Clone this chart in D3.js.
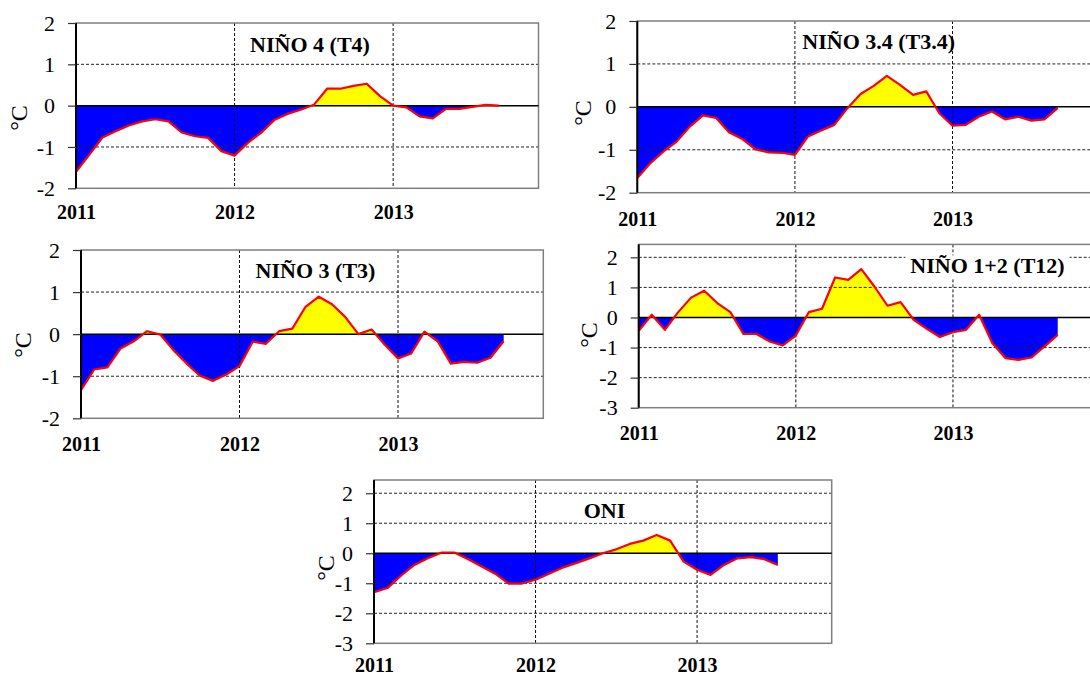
<!DOCTYPE html>
<html>
<head>
<meta charset="utf-8">
<script src="https://cdn.jsdelivr.net/npm/d3@7"></script>
<style>
  html, body { margin: 0; padding: 0; background: #fff; }
  svg { display: block; font-family: "Liberation Serif", "Times New Roman", serif; }
</style>
</head>
<body>
<svg id="chart" width="1090" height="677"></svg>
<script>
// Monthly SST anomalies (°C), starting January 2011
const yearLabels = ["2011", "2012", "2013"];
const yearTickMonths = [0, 12, 24];

const nino4 = [-1.6, -1.19, -0.77, -0.62, -0.48, -0.38, -0.33, -0.38, -0.65, -0.74, -0.78, -1.1,
               -1.21, -0.9, -0.66, -0.35, -0.2, -0.1, 0.02, 0.41, 0.41, 0.48, 0.53, 0.23,
               0.0, -0.04, -0.26, -0.31, -0.08, -0.08, -0.03, 0.02, 0.0];
const nino34 = [-1.66, -1.31, -1.04, -0.81, -0.46, -0.2, -0.26, -0.6, -0.75, -0.99, -1.06, -1.07,
                -1.12, -0.69, -0.55, -0.42, -0.03, 0.3, 0.49, 0.72, 0.51, 0.28, 0.36, -0.15,
                -0.44, -0.42, -0.23, -0.11, -0.29, -0.23, -0.32, -0.29, -0.03];
const nino3 = [-1.33, -0.84, -0.79, -0.34, -0.17, 0.07, -0.01, -0.38, -0.7, -0.99, -1.11, -0.96,
               -0.76, -0.18, -0.23, 0.07, 0.13, 0.65, 0.89, 0.71, 0.41, 0.0, 0.11, -0.25,
               -0.58, -0.46, 0.06, -0.17, -0.7, -0.66, -0.68, -0.56, -0.17];
const nino12 = [-0.44, 0.09, -0.41, 0.17, 0.66, 0.89, 0.48, 0.18, -0.55, -0.55, -0.8, -0.93,
                -0.6, 0.18, 0.29, 1.33, 1.25, 1.61, 1.03, 0.39, 0.51, -0.08, -0.38, -0.65,
                -0.49, -0.41, 0.09, -0.85, -1.35, -1.41, -1.33, -0.96, -0.58];
const oni = [-1.3, -1.16, -0.75, -0.39, -0.17, 0.02, 0.02, -0.2, -0.44, -0.68, -1.01, -1.01,
             -0.88, -0.68, -0.48, -0.33, -0.17, 0.0, 0.13, 0.31, 0.42, 0.61, 0.42, -0.28,
             -0.55, -0.72, -0.39, -0.17, -0.13, -0.2, -0.39];

const ticksSmall = [-2, -1, 0, 1, 2];
const ticksLarge = [-3, -2, -1, 0, 1, 2];

const titles = ["NIÑO 4 (T4)", "NIÑO 3.4 (T3.4)", "NIÑO 3 (T3)", "NIÑO 1+2 (T12)", "ONI"];

// Panel geometry (pixels) and scale domains
const panels = [
  { id: "p4",  title: titles[0], values: nino4,  yTicks: ticksSmall, yMin: -2, yMax: 2,
    left: 76, right: 538.5, top: 23, bottom: 188.3, xMax: 35,
    titleX: 310, titleY: 51.5, titleBox: false, unitX: 19, unitY: 118, labelGap: 31 },
  { id: "p34", title: titles[1], values: nino34, yTicks: ticksSmall, yMin: -2, yMax: 2,
    left: 637.3, right: 1097, top: 21, bottom: 192.7, xMax: 35,
    titleX: 878.7, titleY: 48.5, titleBox: false, unitX: 583, unitY: 113, labelGap: 33 },
  { id: "p3",  title: titles[2], values: nino3,  yTicks: ticksSmall, yMin: -2, yMax: 2,
    left: 81, right: 543.3, top: 250, bottom: 418.3, xMax: 35,
    titleX: 315.5, titleY: 278.3, titleBox: false, unitX: 23, unitY: 345, labelGap: 33 },
  { id: "p12", title: titles[3], values: nino12, yTicks: ticksLarge, yMin: -3, yMax: 2.43,
    left: 638.7, right: 1097, top: 244.4, bottom: 407.7, xMax: 35,
    titleX: 987.5, titleY: 273.3, titleBox: true, unitX: 589, unitY: 335, labelGap: 32 },
  { id: "poni", title: titles[4], values: oni, yTicks: ticksLarge, yMin: -3, yMax: 2.44,
    left: 374, right: 831.7, top: 480, bottom: 643.3, xMax: 34,
    titleX: 604.5, titleY: 517.7, titleBox: true, unitX: 326, unitY: 568, labelGap: 28.5 }
];

const svg = d3.select("#chart");
svg.append("rect").attr("width", 1090).attr("height", 677).attr("fill", "#fff");
const defs = svg.append("defs");

function drawPanel(p) {
  const x = d3.scaleLinear().domain([0, p.xMax]).range([p.left, p.right]);
  const y = d3.scaleLinear().domain([p.yMin, p.yMax]).range([p.bottom, p.top]);
  const g = svg.append("g").attr("class", "panel " + p.id);
  const w = p.right - p.left;

  // clip regions above and below the zero line
  defs.append("clipPath").attr("id", p.id + "-pos")
    .append("rect").attr("x", p.left).attr("y", p.top).attr("width", w).attr("height", y(0) - p.top);
  defs.append("clipPath").attr("id", p.id + "-neg")
    .append("rect").attr("x", p.left).attr("y", y(0)).attr("width", w).attr("height", p.bottom - y(0));

  const area = d3.area().x((d, i) => x(i)).y0(y(0)).y1(d => y(d));
  g.append("path").datum(p.values).attr("d", area)
    .attr("fill", "#ffff00").attr("clip-path", `url(#${p.id}-pos)`);
  g.append("path").datum(p.values).attr("d", area)
    .attr("fill", "#0000ff").attr("clip-path", `url(#${p.id}-neg)`);

  // horizontal dashed gridlines (zero and frame edges excluded)
  const gridVals = p.yTicks.filter(v => v !== 0 && v !== p.yMin && v !== p.yMax);
  g.append("g").selectAll("line").data(gridVals).join("line")
    .attr("x1", p.left).attr("x2", p.right)
    .attr("y1", d => y(d)).attr("y2", d => y(d))
    .attr("stroke", "#222").attr("stroke-width", 1).attr("stroke-dasharray", "3,2");

  // vertical dashed gridlines at year starts
  g.append("g").selectAll("line").data(yearTickMonths.slice(1)).join("line")
    .attr("x1", d => x(d)).attr("x2", d => x(d))
    .attr("y1", p.top).attr("y2", p.bottom)
    .attr("stroke", "#111").attr("stroke-width", 1).attr("stroke-dasharray", "3,2");

  // plot frame
  g.append("rect").attr("x", p.left).attr("y", p.top).attr("width", w).attr("height", p.bottom - p.top)
    .attr("fill", "none").attr("stroke", "#7f7f7f").attr("stroke-width", 1.5);

  // zero line
  g.append("line").attr("x1", p.left).attr("x2", p.right).attr("y1", y(0)).attr("y2", y(0))
    .attr("stroke", "#000").attr("stroke-width", 1.5);

  // anomaly line
  const line = d3.line().x((d, i) => x(i)).y(d => y(d));
  g.append("path").datum(p.values).attr("d", line)
    .attr("fill", "none").attr("stroke", "#ff0000").attr("stroke-width", 2.2)
    .attr("stroke-linejoin", "round");

  // title
  if (p.titleBox) {
    const t = g.append("text").attr("x", p.titleX).attr("y", p.titleY)
      .attr("text-anchor", "middle").attr("font-size", 22).attr("font-weight", "bold").text(p.title);
    const bb = t.node().getBBox();
    g.insert("rect", "text").attr("x", bb.x - 5).attr("y", bb.y + 2)
      .attr("width", bb.width + 10).attr("height", bb.height - 2).attr("fill", "#fff");
  } else {
    g.append("text").attr("x", p.titleX).attr("y", p.titleY)
      .attr("text-anchor", "middle").attr("font-size", 22).attr("font-weight", "bold").text(p.title);
  }

  // y axis
  const yAxis = d3.axisLeft(y).tickValues(p.yTicks).tickSize(8).tickSizeOuter(0)
    .tickPadding(13).tickFormat(d => String(d));
  const ya = g.append("g").attr("transform", `translate(${p.left},0)`).call(yAxis);
  ya.select(".domain").attr("stroke", "#000").attr("stroke-width", 2)
    .attr("d", `M0,${p.top}V${p.bottom}`);
  ya.selectAll(".tick line").attr("stroke", "#333").attr("stroke-width", 1.2);
  ya.selectAll(".tick text").attr("font-size", 22).attr("fill", "#000")
    .attr("font-family", "'Liberation Serif', 'Times New Roman', serif");

  // x axis (year labels)
  const xAxis = d3.axisBottom(x).tickValues(yearTickMonths).tickSize(0).tickSizeOuter(0)
    .tickPadding(p.labelGap - 14.2).tickFormat((d, i) => yearLabels[i]);
  const xa = g.append("g").attr("transform", `translate(0,${p.bottom})`).call(xAxis);
  xa.select(".domain").remove();
  xa.selectAll(".tick text").attr("font-size", 20).attr("font-weight", "bold").attr("fill", "#000")
    .attr("font-family", "'Liberation Serif', 'Times New Roman', serif");

  // unit label
  g.append("text").attr("transform", `translate(${p.unitX},${p.unitY}) rotate(-90)`)
    .attr("text-anchor", "middle").attr("dy", "0.35em").attr("font-size", 24).text("°C");
}

panels.forEach(drawPanel);
</script>
</body>
</html>
